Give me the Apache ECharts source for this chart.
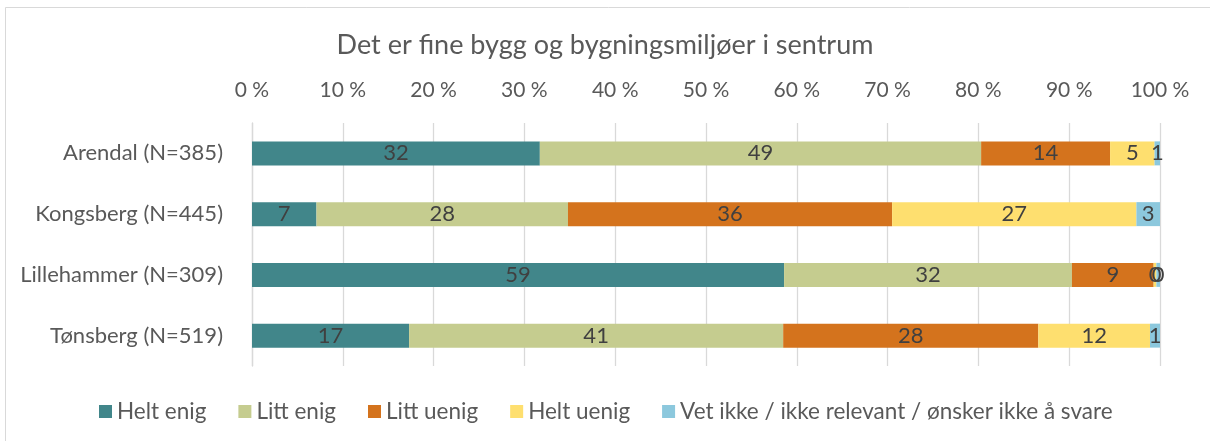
<!DOCTYPE html>
<html>
<head>
<meta charset="utf-8">
<script src="https://cdn.jsdelivr.net/npm/echarts@6/dist/echarts.min.js"></script>
<style>
html,body{margin:0;padding:0;background:#fff;}
#chart{width:1210px;height:441px;}
</style>
</head>
<body>
<div id="chart"></div>
<script>
const title = 'Det er fine bygg og bygningsmiljøer i sentrum';
const categories = ['Arendal (N=385)', 'Kongsberg (N=445)', 'Lillehammer (N=309)', 'Tønsberg (N=519)'];
const seriesNames = ['Helt enig', 'Litt enig', 'Litt uenig', 'Helt uenig', 'Vet ikke / ikke relevant / ønsker ikke å svare'];
const heltEnig = [31.7, 7.1, 58.6, 17.3];
const littEnig = [48.6, 27.7, 31.7, 41.2];
const littUenig = [14.2, 35.7, 9.0, 28.1];
const heltUenig = [4.9, 26.9, 0.3, 12.3];
const vetIkke = [0.6, 2.6, 0.4, 1.1];
const colors = ['#41868A', '#C5CC8F', '#D4731D', '#FEDF6F', '#8CC8DD'];

const seriesData = [heltEnig, littEnig, littUenig, heltUenig, vetIkke];
const FONT = 'Lato';
const chart = echarts.init(document.getElementById('chart'), null, {renderer: 'canvas'});
chart.setOption({
  animation: false,
  backgroundColor: '#fff',
  color: colors,
  graphic: [{
    type: 'rect', shape: {x: 5.5, y: 7.5, width: 1230, height: 460},
    style: {fill: 'none', stroke: '#d9d9d9', lineWidth: 1}, silent: true
  }],
  title: {
    text: title, left: 'center', top: 27,
    textStyle: {fontFamily: FONT, fontSize: 27, fontWeight: 'normal', color: '#595959'}
  },
  legend: {
    bottom: 13, left: 94, itemWidth: 13, itemHeight: 13, itemGap: 32,
    icon: 'rect',
    textStyle: {fontFamily: FONT, fontSize: 22.5, color: '#595959'},
    data: seriesNames
  },
  grid: {left: 252, right: 50, top: 123, bottom: 75, containLabel: false},
  xAxis: {
    type: 'value', position: 'top', min: 0, max: 100, interval: 10,
    axisLabel: {formatter: '{value} %', fontFamily: FONT, fontSize: 21, color: '#595959', margin: 22},
    axisLine: {show: false}, axisTick: {show: false},
    splitLine: {show: true, lineStyle: {color: '#d9d9d9', width: 1.3}}
  },
  yAxis: {
    type: 'category', data: categories, inverse: true,
    axisLabel: {fontFamily: FONT, fontSize: 22, color: '#595959', margin: 29},
    axisLine: {show: true, lineStyle: {color: '#d9d9d9', width: 1.3}},
    axisTick: {show: false}
  },
  series: seriesData.map((d, i) => ({
    name: seriesNames[i], type: 'bar', stack: 'total', data: d, barWidth: 24,
    label: {
      show: true, position: 'inside', fontFamily: FONT, fontSize: 22, color: '#404040',
      formatter: p => String(Math.round(p.value))
    },
    emphasis: {disabled: true}
  }))
});
</script>
</body>
</html>
